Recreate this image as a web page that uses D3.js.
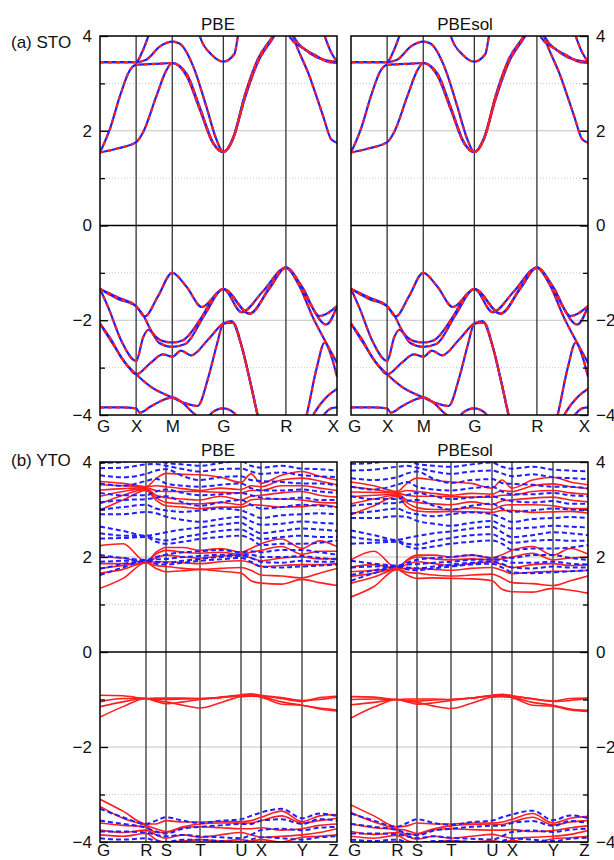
<!DOCTYPE html>
<meta charset="utf-8">
<html>
<head>
  <title>STO / YTO band structures</title>
  <script src="https://cdn.jsdelivr.net/npm/d3@7/dist/d3.min.js"></script>
  <style>
    body { margin: 0; background: #fff; }
    text { font-family: "Liberation Sans", Arial, sans-serif; font-size: 17px; fill: #111; }
  </style>
</head>
<body>
  <svg id="svg" width="614" height="860"></svg>

  <script>
    // ---- STO: cubic path, k in path-length units ----
    var stoTicks = [0, 0.5, 1.0, 1.707, 2.573, 3.28];
    var stoLabels = ["G", "X", "M", "G", "R", "X"];

    // bands as [k, E] knots (same for PBE and PBEsol, they overlap in the plot)
    var stoC1 = [[0,1.54],[0.25,1.63],[0.5,1.76],[0.6,1.98],[0.78,2.73],[0.92,3.28],[1.0,3.43],[1.2,3.2],[1.38,2.5],[1.57,1.74],[1.707,1.55],[1.84,1.82],[2.0,2.66],[2.18,3.43],[2.41,4.0],[2.573,4.5],[2.67,4.0],[2.9,3.15],[3.09,2.3],[3.2,1.82],[3.28,1.75]];
    var stoC2 = [[0,1.54],[0.14,2.05],[0.28,2.75],[0.41,3.27],[0.5,3.39],[0.75,3.41],[1.0,3.43],[1.2,3.15],[1.38,2.45],[1.57,1.72],[1.707,1.55],[1.84,1.85],[2.0,2.7],[2.18,3.47],[2.41,4.03],[2.573,4.5],[2.62,4.0],[2.8,3.75],[2.95,3.62],[3.15,3.46],[3.28,3.43]];
    var stoC3 = [[0,3.45],[0.5,3.45],[0.64,3.5],[0.83,3.78],[1.0,3.88],[1.1,3.84],[1.29,3.36],[1.47,2.52],[1.61,1.82],[1.707,1.55],[1.85,1.87],[2.0,2.73],[2.18,3.5],[2.41,4.05],[2.573,4.6],[2.68,4.0],[2.85,3.7],[3.0,3.55],[3.28,3.45]];
    var stoC4 = [[0,3.45],[0.5,3.45],[0.58,3.65],[0.67,4.0],[0.8,4.6],[1.0,5.0],[1.3,4.5],[1.38,4.0],[1.55,3.6],[1.707,3.46],[1.86,3.62],[1.91,4.0],[2.1,4.8],[2.573,5.2],[3.0,4.6],[3.11,4.0],[3.2,3.65],[3.28,3.46]];
    var stoV1 = [[0,-1.34],[0.25,-1.52],[0.5,-1.70],[0.62,-1.92],[0.8,-1.5],[1.0,-1.0],[1.2,-1.3],[1.41,-1.72],[1.58,-1.5],[1.707,-1.34],[1.96,-1.83],[2.25,-1.4],[2.573,-0.89],[2.8,-1.3],[3.04,-1.91],[3.28,-1.70]];
    var stoV2 = [[0,-1.34],[0.25,-1.55],[0.5,-1.71],[0.6,-1.9],[0.72,-2.25],[0.87,-2.44],[1.0,-2.47],[1.15,-2.42],[1.4,-1.95],[1.6,-1.45],[1.707,-1.34],[2.07,-1.86],[2.35,-1.3],[2.573,-0.89],[2.85,-1.5],[3.13,-2.09],[3.28,-1.71]];
    var stoV3 = [[0,-1.34],[0.12,-1.75],[0.3,-2.45],[0.5,-2.86],[0.6,-2.35],[0.67,-2.2],[0.82,-2.48],[1.0,-2.56],[1.18,-2.5],[1.45,-1.88],[1.707,-1.34],[2.07,-1.86],[2.35,-1.32],[2.573,-0.89],[2.75,-1.25],[2.95,-1.95],[3.12,-2.45],[3.28,-2.9]];
    var stoV4 = [[0,-2.07],[0.2,-2.55],[0.4,-3.0],[0.5,-3.14],[0.7,-2.9],[0.87,-2.72],[1.0,-2.77],[1.12,-2.64],[1.26,-2.74],[1.5,-2.4],[1.707,-2.07],[1.82,-2.02],[1.95,-2.5],[2.08,-3.3],[2.2,-4.1],[2.4,-4.8],[2.573,-5],[2.75,-4.6],[2.86,-4.0],[3.0,-3.0],[3.11,-2.47],[3.2,-2.75],[3.28,-3.19]];
    var stoV5 = [[0,-2.07],[0.15,-2.4],[0.3,-2.8],[0.5,-3.14],[0.7,-3.4],[1.0,-3.63],[1.2,-3.76],[1.35,-3.81],[1.5,-3.2],[1.62,-2.5],[1.707,-2.07],[1.84,-2.05],[1.97,-2.6],[2.1,-3.45],[2.18,-4.0],[2.4,-4.8],[2.573,-5],[2.85,-4.3],[2.95,-4.0],[3.15,-3.6],[3.28,-3.45]];
    var stoV6 = [[0,-3.84],[0.3,-3.84],[0.5,-3.86],[0.55,-3.95],[0.7,-3.82],[0.85,-3.7],[1.0,-3.63],[1.15,-3.75],[1.3,-3.97],[1.45,-4.1],[1.55,-3.95],[1.707,-3.86],[1.85,-3.95],[2.0,-4.3],[2.573,-5],[3.0,-4.3],[3.1,-4.0],[3.2,-3.86],[3.28,-3.84]];
    var stoBands = [stoC1, stoC2, stoC3, stoC4, stoV1, stoV2, stoV3, stoV4, stoV5, stoV6];

    // ---- YTO: orthorhombic path, energies sampled on a fixed k grid ----
    var ytoTicks = [0, 0.46, 0.66, 1.0, 1.41, 1.61, 2.02, 2.37];
    var ytoLabels = ["G", "R", "S", "T", "U", "X", "Y", "Z"];
    var ytoGrid = [0, 0.23, 0.46, 0.56, 0.66, 0.83, 1.0, 1.205, 1.41, 1.51, 1.61, 1.815, 2.02, 2.195, 2.37];

    // PBE - red solid
    var ytoPbeRed = [
      [1.34,1.55,1.88,1.76,1.69,1.71,1.74,1.70,1.66,1.50,1.45,1.43,1.53,1.46,1.40],
      [1.66,1.74,1.88,1.82,1.80,1.76,1.74,1.76,1.78,1.72,1.62,1.60,1.56,1.66,1.76],
      [1.76,1.82,1.88,1.90,1.90,1.88,1.86,1.90,1.92,1.88,1.80,1.82,1.84,1.84,1.86],
      [1.86,1.86,1.88,1.98,2.04,2.00,1.98,2.02,2.04,1.98,1.92,1.98,2.00,1.96,1.97],
      [2.00,1.98,1.88,2.06,2.14,2.10,2.08,2.10,2.06,2.10,2.14,2.22,2.06,2.12,2.12],
      [2.24,2.28,1.90,2.10,2.20,2.20,2.14,2.18,2.10,2.18,2.28,2.38,2.18,2.34,2.22],
      [3.59,3.55,3.48,3.65,3.76,3.74,3.73,3.68,3.57,3.75,3.55,3.72,3.80,3.70,3.62],
      [3.52,3.50,3.48,3.50,3.48,3.44,3.40,3.45,3.42,3.50,3.48,3.62,3.66,3.60,3.52],
      [3.41,3.44,3.46,3.40,3.38,3.38,3.38,3.36,3.35,3.40,3.40,3.50,3.50,3.45,3.40],
      [3.28,3.38,3.44,3.30,3.25,3.22,3.20,3.28,3.20,3.28,3.30,3.35,3.38,3.30,3.26],
      [3.12,3.30,3.42,3.25,3.15,3.12,3.12,3.15,3.10,3.20,3.22,3.22,3.20,3.15,3.14],
      [2.99,3.20,3.40,3.20,3.08,3.05,3.02,3.05,3.05,3.10,3.09,3.05,3.06,3.10,3.05],
      [-0.91,-0.92,-0.98,-0.97,-0.97,-0.97,-0.98,-0.95,-0.90,-0.88,-0.91,-0.98,-1.04,-0.96,-0.93],
      [-1.05,-0.98,-0.98,-1.00,-1.00,-0.99,-0.98,-0.96,-0.92,-0.90,-0.92,-0.96,-1.02,-1.00,-0.95],
      [-1.15,-1.05,-0.98,-1.04,-1.09,-1.05,-1.00,-0.96,-0.92,-0.92,-0.94,-1.05,-1.12,-1.18,-1.22],
      [-1.37,-1.15,-0.98,-1.02,-1.05,-1.12,-1.18,-1.07,-0.94,-0.93,-0.95,-1.10,-1.12,-1.20,-1.24],
      [-3.10,-3.35,-3.62,-3.62,-3.55,-3.58,-3.58,-3.57,-3.57,-3.55,-3.48,-3.35,-3.57,-3.45,-3.42],
      [-3.25,-3.50,-3.65,-3.72,-3.78,-3.68,-3.62,-3.60,-3.60,-3.60,-3.55,-3.45,-3.60,-3.55,-3.50],
      [-3.60,-3.65,-3.68,-3.80,-3.80,-3.70,-3.68,-3.70,-3.72,-3.72,-3.70,-3.75,-3.72,-3.65,-3.62],
      [-3.75,-3.80,-3.75,-3.85,-3.92,-3.85,-3.90,-3.85,-3.80,-3.85,-3.90,-3.88,-3.85,-3.80,-3.72],
      [-3.85,-3.88,-3.82,-3.95,-4.00,-3.98,-3.95,-3.98,-3.95,-3.98,-3.95,-4.00,-3.90,-3.88,-3.85]
    ];
    // PBE - blue dashed
    var ytoPbeBlue = [
      [1.62,1.78,1.92,1.86,1.84,1.88,1.92,1.95,1.98,1.90,1.80,1.78,1.80,1.82,1.84],
      [1.75,1.85,1.92,1.90,1.88,1.92,1.96,2.00,2.02,1.98,1.90,1.88,1.92,1.90,1.90],
      [1.90,1.92,1.93,1.95,1.96,2.00,2.02,2.05,2.05,2.05,2.00,2.00,2.02,1.98,1.95],
      [2.04,1.98,1.94,2.00,2.05,2.10,2.12,2.15,2.10,2.12,2.10,2.15,2.15,2.10,2.05],
      [2.39,2.40,2.42,2.32,2.28,2.32,2.38,2.42,2.45,2.38,2.25,2.28,2.28,2.30,2.35],
      [2.50,2.45,2.44,2.38,2.35,2.42,2.48,2.55,2.58,2.48,2.38,2.42,2.45,2.42,2.42],
      [2.64,2.55,2.45,2.48,2.52,2.58,2.62,2.68,2.72,2.60,2.50,2.55,2.60,2.58,2.55],
      [2.90,2.90,2.95,2.92,2.85,2.78,2.74,2.80,2.85,2.75,2.68,2.70,2.75,2.72,2.70],
      [3.00,3.05,3.10,3.02,2.98,2.95,2.98,3.02,2.98,2.90,2.82,2.88,2.90,2.92,2.90],
      [3.15,3.20,3.22,3.25,3.28,3.15,3.08,3.15,3.20,3.10,3.02,3.05,3.10,3.08,3.05],
      [3.35,3.30,3.30,3.38,3.42,3.35,3.30,3.32,3.35,3.30,3.25,3.22,3.25,3.20,3.20],
      [3.55,3.50,3.60,3.65,3.55,3.50,3.48,3.52,3.55,3.45,3.40,3.40,3.42,3.38,3.35],
      [3.72,3.68,3.75,3.82,3.85,3.70,3.62,3.68,3.70,3.62,3.60,3.58,3.55,3.55,3.50],
      [3.87,3.88,3.95,3.96,3.92,3.85,3.80,3.85,3.86,3.80,3.75,3.78,3.72,3.70,3.68],
      [3.98,4.00,4.10,4.05,3.98,3.95,3.92,3.98,4.02,3.92,3.88,3.92,3.86,3.85,3.82],
      [-3.30,-3.48,-3.62,-3.55,-3.48,-3.55,-3.60,-3.55,-3.52,-3.45,-3.38,-3.30,-3.50,-3.40,-3.45],
      [-3.55,-3.62,-3.70,-3.78,-3.82,-3.72,-3.68,-3.65,-3.62,-3.62,-3.55,-3.52,-3.62,-3.52,-3.55],
      [-3.78,-3.78,-3.80,-3.85,-3.88,-3.85,-3.88,-3.90,-3.92,-3.85,-3.75,-3.72,-3.75,-3.70,-3.68],
      [-3.92,-3.95,-3.92,-3.98,-4.00,-3.95,-3.95,-3.98,-4.00,-3.95,-3.90,-3.92,-3.95,-3.90,-3.88]
    ];
    // PBEsol - red solid
    var ytoSolRed = [
      [1.16,1.38,1.74,1.62,1.55,1.56,1.55,1.54,1.50,1.32,1.27,1.26,1.34,1.30,1.24],
      [1.45,1.58,1.74,1.68,1.66,1.62,1.60,1.62,1.64,1.56,1.46,1.44,1.40,1.50,1.60],
      [1.59,1.66,1.75,1.76,1.76,1.74,1.72,1.76,1.78,1.72,1.65,1.68,1.70,1.70,1.72],
      [1.69,1.72,1.76,1.84,1.90,1.86,1.82,1.86,1.90,1.84,1.78,1.84,1.86,1.82,1.84],
      [1.79,1.84,1.76,1.92,2.00,1.96,1.94,1.96,1.94,1.96,2.00,2.08,1.94,1.98,2.00],
      [1.94,2.12,1.76,1.94,2.04,2.04,2.00,2.04,1.98,2.05,2.14,2.22,2.04,2.18,2.06],
      [3.58,3.50,3.38,3.55,3.66,3.62,3.58,3.55,3.45,3.62,3.45,3.62,3.68,3.58,3.52],
      [3.48,3.42,3.36,3.40,3.38,3.34,3.30,3.34,3.32,3.40,3.38,3.50,3.54,3.48,3.44],
      [3.37,3.36,3.34,3.30,3.28,3.28,3.27,3.26,3.26,3.30,3.30,3.38,3.40,3.35,3.32],
      [3.27,3.30,3.32,3.20,3.15,3.12,3.10,3.16,3.10,3.18,3.20,3.24,3.26,3.20,3.16],
      [3.12,3.22,3.30,3.14,3.04,3.00,3.00,3.04,3.00,3.08,3.10,3.10,3.08,3.02,3.02],
      [2.89,3.08,3.28,3.06,2.97,2.95,2.96,2.95,2.94,2.98,2.98,2.94,2.95,2.96,2.92],
      [-0.94,-0.95,-1.00,-0.99,-0.99,-0.99,-1.00,-0.97,-0.91,-0.89,-0.92,-0.99,-1.03,-0.98,-0.97],
      [-1.00,-0.99,-1.00,-1.02,-1.03,-1.01,-1.00,-0.97,-0.92,-0.91,-0.93,-0.98,-1.04,-1.02,-0.98],
      [-1.11,-1.06,-1.00,-1.05,-1.10,-1.07,-1.02,-0.97,-0.93,-0.93,-0.95,-1.06,-1.12,-1.20,-1.23],
      [-1.39,-1.16,-1.00,-1.03,-1.06,-1.14,-1.19,-1.08,-0.95,-0.94,-0.96,-1.12,-1.14,-1.22,-1.25],
      [-3.22,-3.45,-3.68,-3.66,-3.60,-3.62,-3.62,-3.60,-3.60,-3.58,-3.52,-3.40,-3.60,-3.50,-3.46],
      [-3.38,-3.58,-3.72,-3.76,-3.82,-3.72,-3.66,-3.63,-3.62,-3.63,-3.58,-3.48,-3.64,-3.58,-3.55],
      [-3.62,-3.70,-3.74,-3.84,-3.84,-3.74,-3.72,-3.74,-3.75,-3.75,-3.74,-3.78,-3.76,-3.70,-3.66],
      [-3.78,-3.84,-3.80,-3.88,-3.94,-3.88,-3.92,-3.88,-3.84,-3.88,-3.92,-3.90,-3.88,-3.84,-3.76],
      [-3.88,-3.92,-3.86,-3.97,-4.02,-4.00,-3.97,-4.00,-3.97,-4.00,-3.97,-4.02,-3.93,-3.91,-3.88]
    ];
    // PBEsol - blue dashed
    var ytoSolBlue = [
      [1.50,1.66,1.80,1.74,1.72,1.76,1.80,1.84,1.86,1.78,1.68,1.66,1.68,1.70,1.72],
      [1.62,1.72,1.80,1.78,1.76,1.80,1.84,1.88,1.90,1.86,1.78,1.76,1.80,1.78,1.78],
      [1.78,1.80,1.81,1.84,1.85,1.88,1.90,1.94,1.94,1.94,1.88,1.88,1.90,1.86,1.84],
      [1.92,1.86,1.82,1.88,1.94,1.98,2.00,2.04,1.98,2.00,1.98,2.04,2.04,1.98,1.94],
      [2.28,2.30,2.32,2.22,2.18,2.22,2.28,2.32,2.35,2.28,2.15,2.18,2.18,2.20,2.25],
      [2.42,2.36,2.34,2.28,2.26,2.34,2.40,2.46,2.48,2.38,2.30,2.34,2.36,2.34,2.34],
      [2.56,2.46,2.36,2.40,2.44,2.50,2.54,2.60,2.64,2.52,2.42,2.46,2.52,2.50,2.46],
      [2.82,2.82,2.86,2.84,2.76,2.70,2.66,2.72,2.76,2.66,2.60,2.62,2.66,2.64,2.62],
      [2.92,2.96,3.02,2.94,2.90,2.86,2.90,2.94,2.90,2.82,2.74,2.80,2.82,2.84,2.82],
      [3.08,3.12,3.14,3.18,3.20,3.08,3.00,3.08,3.12,3.02,2.95,2.98,3.02,3.00,2.98],
      [3.28,3.22,3.22,3.30,3.35,3.28,3.22,3.25,3.28,3.22,3.18,3.15,3.18,3.12,3.12],
      [3.48,3.42,3.52,3.58,3.48,3.42,3.40,3.45,3.48,3.38,3.32,3.32,3.35,3.30,3.28],
      [3.66,3.62,3.68,3.76,3.80,3.64,3.56,3.62,3.64,3.56,3.54,3.52,3.48,3.48,3.44],
      [3.82,3.84,3.90,3.92,3.88,3.80,3.75,3.80,3.82,3.76,3.70,3.74,3.68,3.66,3.64],
      [3.96,3.98,4.06,4.02,3.96,3.92,3.90,3.95,3.99,3.90,3.86,3.90,3.84,3.82,3.80],
      [-3.40,-3.55,-3.68,-3.60,-3.52,-3.60,-3.64,-3.58,-3.55,-3.48,-3.42,-3.34,-3.54,-3.44,-3.50],
      [-3.62,-3.68,-3.75,-3.82,-3.86,-3.76,-3.72,-3.68,-3.66,-3.66,-3.60,-3.56,-3.66,-3.56,-3.60],
      [-3.82,-3.82,-3.84,-3.88,-3.92,-3.88,-3.91,-3.93,-3.95,-3.88,-3.79,-3.76,-3.79,-3.74,-3.72],
      [-3.95,-3.98,-3.95,-4.00,-4.02,-3.98,-3.98,-4.00,-4.02,-3.98,-3.93,-3.95,-3.98,-3.93,-3.91]
    ];

    var svg = d3.select("#svg");

    // panel geometry
    var panelW = 237;
    var colX = [100, 351];
    var titleX = [218, 465];
    var rowTop = [36, 462];
    var rowBottom = [415, 842];
    var labelPad = [5, 2];

    var red = "#ff1f1f", blue = "#1f1fff";
    var clipId = 0;

    function onGrid(vals) {
      return vals.map(function (v, i) { return [ytoGrid[i], v]; });
    }

    function drawPanel(col, row, ticks, labels, title, drawBands) {
      var x0 = colX[col], x1 = x0 + panelW;
      var x = d3.scaleLinear().domain([0, ticks[ticks.length - 1]]).range([x0, x1]);
      var y = d3.scaleLinear().domain([-4, 4]).range([rowBottom[row], rowTop[row]]);
      var g = svg.append("g");

      // grid: dotted at odd values, solid grey at +-2
      g.selectAll(".minor").data([-3, -1, 1, 3]).enter().append("line")
        .attr("x1", x0).attr("x2", x1)
        .attr("y1", function (d) { return y(d); }).attr("y2", function (d) { return y(d); })
        .attr("stroke", "#c8c8c8").attr("stroke-dasharray", "1,2");
      g.selectAll(".major").data([-2, 2]).enter().append("line")
        .attr("x1", x0).attr("x2", x1)
        .attr("y1", function (d) { return y(d); }).attr("y2", function (d) { return y(d); })
        .attr("stroke", "#c4c4c4");

      // high symmetry lines
      g.selectAll(".kline").data(ticks.slice(1, -1)).enter().append("line")
        .attr("x1", function (d) { return x(d); }).attr("x2", function (d) { return x(d); })
        .attr("y1", y(4)).attr("y2", y(-4))
        .attr("stroke", "#333").attr("stroke-width", 1.3);

      // bands, clipped to the frame
      var id = "clip" + (clipId++);
      svg.append("clipPath").attr("id", id).append("rect")
        .attr("x", x0).attr("y", y(4)).attr("width", panelW).attr("height", y(-4) - y(4));
      var bg = g.append("g").attr("clip-path", "url(#" + id + ")");
      var line = d3.line()
        .x(function (d) { return x(d[0]); })
        .y(function (d) { return y(d[1]); })
        .curve(d3.curveMonotoneX);
      drawBands(bg, line);

      // zero line and frame
      g.append("line").attr("x1", x0).attr("x2", x1).attr("y1", y(0)).attr("y2", y(0))
        .attr("stroke", "#000").attr("stroke-width", 1.5);
      g.append("rect").attr("x", x0).attr("y", y(4)).attr("width", panelW).attr("height", y(-4) - y(4))
        .attr("fill", "none").attr("stroke", "#000").attr("stroke-width", 1.5);

      // y axis: left panel on the left, right panel on the right, ticks inward
      var major = col === 0 ? d3.axisLeft(y) : d3.axisRight(y);
      major.tickValues([-4, -2, 0, 2, 4]).tickSize(-8).tickPadding(8).tickFormat(d3.format("d"));
      var minor = col === 0 ? d3.axisLeft(y) : d3.axisRight(y);
      minor.tickValues([-3, -1, 1, 3]).tickSize(-5).tickFormat("");
      var ax = g.append("g").attr("transform", "translate(" + (col === 0 ? x0 : x1) + ",0)").call(major);
      var axm = g.append("g").attr("transform", "translate(" + (col === 0 ? x0 : x1) + ",0)").call(minor);
      [ax, axm].forEach(function (a) {
        a.select(".domain").remove();
        a.selectAll("line").attr("stroke", "#000").attr("stroke-width", 1.3);
        a.selectAll("text").attr("font-size", 17).attr("font-family", "Liberation Sans, Arial, sans-serif").attr("fill", "#111");
      });

      // k-point labels
      var xa = g.append("g").attr("transform", "translate(0," + y(-4) + ")")
        .call(d3.axisBottom(x).tickValues(ticks).tickSize(0).tickPadding(labelPad[row])
          .tickFormat(function (d, i) { return labels[i]; }));
      xa.select(".domain").remove();
      xa.selectAll("text").attr("font-size", 17).attr("font-family", "Liberation Sans, Arial, sans-serif").attr("fill", "#111")
        .attr("dx", function (d, i) { return i === 0 ? 3 : (i === ticks.length - 1 ? -4 : 0); });

      // panel title
      g.append("text").attr("x", titleX[col]).attr("y", rowTop[row] - 6)
        .attr("text-anchor", "middle").text(title);
    }

    function stoBandsDraw(bg, line) {
      bg.selectAll(".bb").data(stoBands).enter().append("path")
        .attr("d", line).attr("fill", "none").attr("stroke", blue).attr("stroke-width", 2.2);
      bg.selectAll(".rb").data(stoBands).enter().append("path")
        .attr("d", line).attr("fill", "none").attr("stroke", red).attr("stroke-width", 2.2)
        .attr("stroke-dasharray", "4,4");
    }

    function ytoBandsDraw(redSet, blueSet) {
      return function (bg, line) {
        bg.selectAll(".rb").data(redSet).enter().append("path")
          .attr("d", function (d) { return line(onGrid(d)); })
          .attr("fill", "none").attr("stroke", red).attr("stroke-width", 1.6);
        bg.selectAll(".bb").data(blueSet).enter().append("path")
          .attr("d", function (d) { return line(onGrid(d)); })
          .attr("fill", "none").attr("stroke", blue).attr("stroke-width", 2)
          .attr("stroke-dasharray", "5,3");
      };
    }

    drawPanel(0, 0, stoTicks, stoLabels, "PBE", stoBandsDraw);
    drawPanel(1, 0, stoTicks, stoLabels, "PBEsol", stoBandsDraw);
    drawPanel(0, 1, ytoTicks, ytoLabels, "PBE", ytoBandsDraw(ytoPbeRed, ytoPbeBlue));
    drawPanel(1, 1, ytoTicks, ytoLabels, "PBEsol", ytoBandsDraw(ytoSolRed, ytoSolBlue));

    // panel tags
    svg.append("text").attr("x", 11).attr("y", 48).text("(a) STO");
    svg.append("text").attr("x", 11).attr("y", 466).text("(b) YTO");
  </script>
</body>
</html>
